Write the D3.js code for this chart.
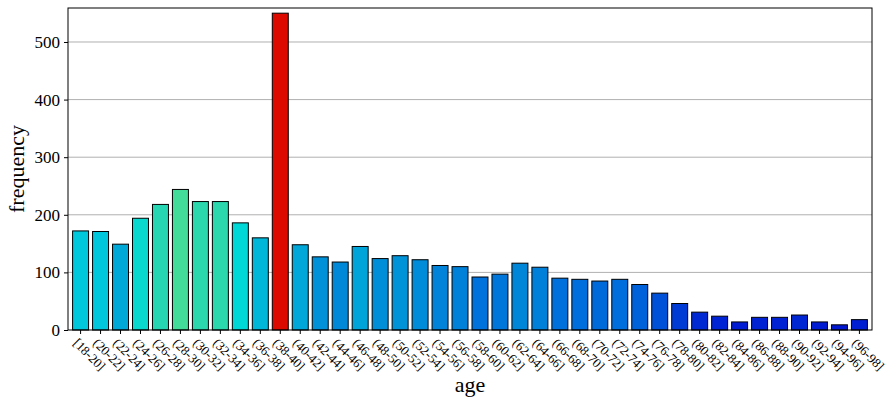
<!DOCTYPE html>
<html>
<head>
<meta charset="utf-8">
<script src="https://cdn.jsdelivr.net/npm/d3@7"></script>
<style>
  body { margin: 0; background: #fff; }
  text { font-family: "Liberation Serif", "DejaVu Serif", serif; }
</style>
</head>
<body>
<div class="chart"></div>
<script>
// age bins
var bins = ["[18-20]", "(20-22]", "(22-24]", "(24-26]", "(26-28]", "(28-30]", "(30-32]", "(32-34]",
  "(34-36]", "(36-38]", "(38-40]", "(40-42]", "(42-44]", "(44-46]", "(46-48]", "(48-50]",
  "(50-52]", "(52-54]", "(54-56]", "(56-58]", "(58-60]", "(60-62]", "(62-64]", "(64-66]",
  "(66-68]", "(68-70]", "(70-72]", "(72-74]", "(74-76]", "(76-78]", "(78-80]", "(80-82]",
  "(82-84]", "(84-86]", "(86-88]", "(88-90]", "(90-92]", "(92-94]", "(94-96]", "(96-98]"];

var counts = [172, 171, 149, 194, 218, 244, 223, 223, 186, 160, 550, 148, 127, 118, 145, 124,
  129, 122, 112, 110, 92, 97, 116, 109, 90, 88, 85, 88, 79, 64, 46, 31, 24, 14, 22, 22, 26, 14, 9, 18];

var yTicks = [0, 100, 200, 300, 400, 500];

var margin = {top: 8, right: 17, bottom: 68, left: 68},
    width = 889 - margin.left - margin.right,
    height = 398 - margin.top - margin.bottom;

var svg = d3.select(".chart").append("svg")
    .attr("width", 889)
    .attr("height", 398);

var g = svg.append("g")
    .attr("transform", "translate(" + margin.left + "," + margin.top + ")");

var x = d3.scaleBand()
    .domain(bins)
    .range([0, width])
    .paddingInner(0.2)
    .paddingOuter(0.23);

var y = d3.scaleLinear()
    .domain([0, 559])
    .range([height, 0]);

// colour by count, max bar is red
var color = d3.scaleLinear()
    .domain([0, 30, 64, 90, 118, 149, 172, 186, 220, 244])
    .range(["#0010d0", "#0028d4", "#0050d8", "#0070dc", "#0088d8", "#00a8d8", "#00c8dc", "#00d8d8", "#28d6b0", "#43dc98"])
    .clamp(true);
var maxCount = d3.max(counts);

// grid
g.append("g").selectAll("line")
  .data(yTicks.slice(1))
  .enter().append("line")
    .attr("x1", 0)
    .attr("x2", width)
    .attr("y1", function(d) { return y(d) })
    .attr("y2", function(d) { return y(d) })
    .attr("stroke", "#b0b0b0")
    .attr("stroke-width", 1);

// bars
g.append("g").selectAll("rect")
  .data(counts)
  .enter().append("rect")
    .attr("x", function(d, i) { return x(bins[i]) })
    .attr("y", function(d) { return y(d) })
    .attr("width", x.bandwidth())
    .attr("height", function(d) { return height - y(d) })
    .attr("fill", function(d) { return d === maxCount ? "#dd0a00" : color(d) })
    .attr("stroke", "#000")
    .attr("stroke-width", 1);

// x axis
var xAxis = g.append("g")
    .attr("transform", "translate(0," + height + ")")
    .call(d3.axisBottom(x).tickSize(4).tickSizeOuter(0));
xAxis.select(".domain").remove();
xAxis.selectAll("text")
    .attr("transform", "rotate(45)")
    .attr("text-anchor", "start")
    .attr("x", 4)
    .attr("y", 13)
    .attr("dy", "0.2em")
    .style("font-size", "13px")
    .attr("fill", "#000");

// y axis
var yAxis = g.append("g")
    .call(d3.axisLeft(y).tickValues(yTicks).tickSize(4).tickSizeOuter(0).tickPadding(4));
yAxis.select(".domain").remove();
yAxis.selectAll("text")
    .style("font-size", "17px")
    .attr("fill", "#000");

// frame
g.append("rect")
    .attr("width", width)
    .attr("height", height)
    .attr("fill", "none")
    .attr("stroke", "#000")
    .attr("stroke-width", 1);

// labels
svg.append("text")
    .attr("x", margin.left + width / 2)
    .attr("y", 392)
    .attr("text-anchor", "middle")
    .style("font-size", "22px")
    .text("age");

svg.append("text")
    .attr("transform", "rotate(-90)")
    .attr("x", -(margin.top + height / 2))
    .attr("y", 24)
    .attr("text-anchor", "middle")
    .style("font-size", "22px")
    .text("frequency");
</script>
</body>
</html>
